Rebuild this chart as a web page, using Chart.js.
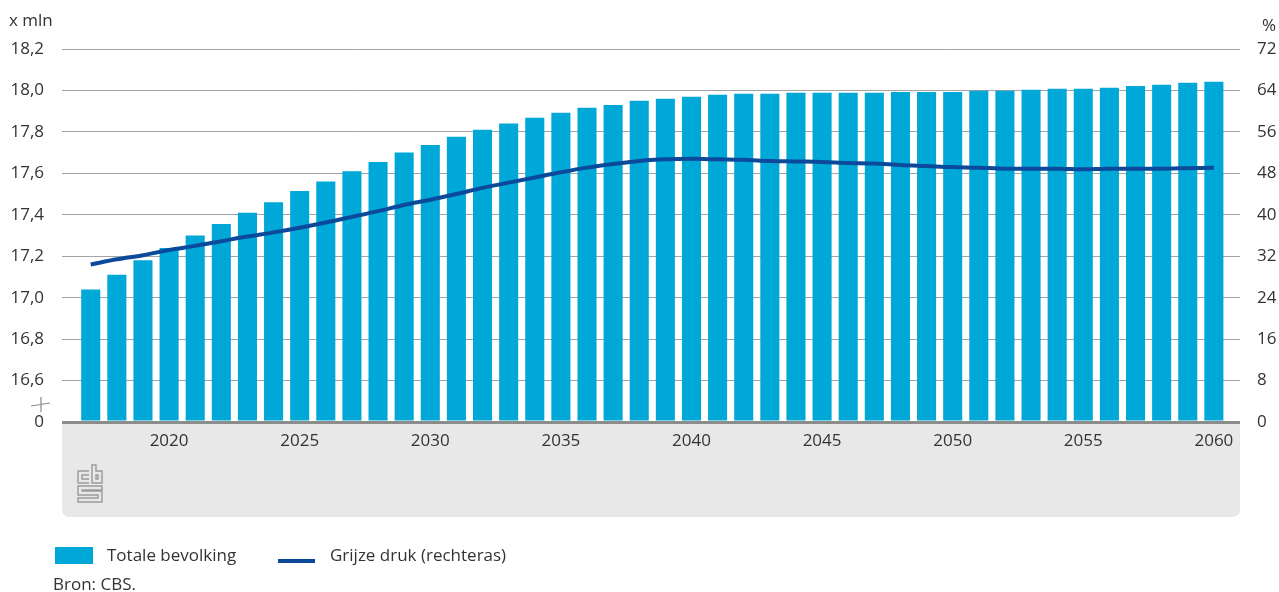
<!DOCTYPE html>
<html>
<head>
<meta charset="utf-8">
<script src="https://cdn.jsdelivr.net/npm/chart.js@4"></script>
<style>
  html, body { margin: 0; padding: 0; background: #fff; }
  #wrap { position: relative; width: 1279px; height: 592px; font-family: "Open Sans", sans-serif; color: #333; }
  #legend { position: absolute; left: 55px; top: 543px; font-size: 17px; }
  .item { position: absolute; top: 0; white-space: nowrap; }
  .swatch { position: absolute; }
  #bron { position: absolute; left: 53px; top: 572px; font-size: 17px; }
</style>
</head>
<body>
<div id="wrap">
  <canvas id="chart" width="1279" height="592"></canvas>
  <div id="legend">
    <div class="swatch" style="left:0;top:4px;width:38px;height:17px;background:#00a8d8"></div>
    <div class="item" style="left:52px">Totale bevolking</div>
    <div class="swatch" style="left:223px;top:16px;width:37px;height:4px;background:#0b4a9b"></div>
    <div class="item" style="left:275px">Grijze druk (rechteras)</div>
  </div>
  <div id="bron">Bron: CBS.</div>
</div>
<script>
// jaren 2017 - 2060
var years = [];
for (var y = 2017; y <= 2060; y++) years.push(y);

// totale bevolking (x mln)
var population = [
  17.04, 17.11, 17.18, 17.24, 17.30, 17.355, 17.41, 17.46, 17.515, 17.56,
  17.61, 17.655, 17.70, 17.737, 17.776, 17.81, 17.84, 17.868, 17.892, 17.916,
  17.93, 17.95, 17.96, 17.969, 17.979, 17.984, 17.984, 17.989, 17.989, 17.989,
  17.989, 17.993, 17.993, 17.993, 17.998, 17.998, 18.003, 18.008, 18.008, 18.013,
  18.022, 18.027, 18.037, 18.042
];

// grijze druk (%)
var greyPressure = [
  30.4, 31.4, 32.2, 33.2, 34.0, 34.9, 35.8, 36.6, 37.5, 38.5,
  39.6, 40.7, 41.9, 42.9, 44.0, 45.2, 46.2, 47.2, 48.2, 49.1,
  49.8, 50.4, 50.7, 50.8, 50.7, 50.6, 50.4, 50.3, 50.2, 50.0,
  49.9, 49.6, 49.4, 49.2, 49.1, 48.9, 48.9, 48.9, 48.8, 48.9,
  48.9, 48.9, 49.0, 49.1
];

var xTicks = [2020, 2025, 2030, 2035, 2040, 2045, 2050, 2055, 2060];

var textColor = '#333333';
var fontFamily = '"Open Sans", sans-serif';

var decorPlugin = {
    id: 'decor',
    beforeDraw: function (chart) {
        var ctx = chart.ctx;
        var a = chart.chartArea;
        var bottom = 517, r = 8;
        ctx.save();
        ctx.fillStyle = '#e8e8e8';
        ctx.beginPath();
        ctx.moveTo(a.left, a.bottom);
        ctx.lineTo(a.right, a.bottom);
        ctx.lineTo(a.right, bottom - r);
        ctx.quadraticCurveTo(a.right, bottom, a.right - r, bottom);
        ctx.lineTo(a.left + r, bottom);
        ctx.quadraticCurveTo(a.left, bottom, a.left, bottom - r);
        ctx.closePath();
        ctx.fill();
        ctx.restore();
    },
    afterDraw: function (chart) {
        var ctx = chart.ctx;
        ctx.save();
        // eenheden
        ctx.fillStyle = textColor;
        ctx.font = '17px ' + fontFamily;
        ctx.textAlign = 'left';
        ctx.textBaseline = 'alphabetic';
        ctx.fillText('x mln', 9, 26);
        ctx.fillText('%', 1262, 31);

        // asbreuk
        ctx.strokeStyle = '#8a8a8a';
        ctx.lineWidth = 1.2;
        ctx.beginPath();
        ctx.moveTo(41, 397);
        ctx.lineTo(41, 412);
        ctx.moveTo(31, 406);
        ctx.lineTo(50, 403);
        ctx.stroke();

        // cbs logo (vereenvoudigd)
        ctx.strokeStyle = '#9a9a9a';
        ctx.lineWidth = 1.4;
        ctx.beginPath();
        // c
        ctx.moveTo(89, 471); ctx.lineTo(78, 471); ctx.lineTo(78, 483); ctx.lineTo(89, 483);
        ctx.moveTo(89, 475); ctx.lineTo(82, 475); ctx.lineTo(82, 479); ctx.lineTo(89, 479);
        // b
        ctx.moveTo(92, 465); ctx.lineTo(92, 483); ctx.lineTo(102, 483); ctx.lineTo(102, 471); ctx.lineTo(96, 471); ctx.lineTo(96, 465); ctx.closePath();
        ctx.moveTo(96, 475); ctx.lineTo(98, 475); ctx.lineTo(98, 479); ctx.lineTo(96, 479); ctx.closePath();
        // s
        ctx.moveTo(102, 486); ctx.lineTo(78, 486); ctx.lineTo(78, 495); ctx.lineTo(98, 495); ctx.lineTo(98, 498); ctx.lineTo(78, 498); ctx.lineTo(78, 502); ctx.lineTo(102, 502); ctx.lineTo(102, 491); ctx.lineTo(82, 491); ctx.lineTo(82, 490); ctx.lineTo(102, 490); ctx.closePath();
        ctx.stroke();
        ctx.restore();
    }
};

var chartCanvas = document.getElementById('chart');
var populationChart = new Chart(chartCanvas, {
    type: 'bar',
    data: {
        datasets: [
            {
                type: 'line',
                label: 'Grijze druk (rechteras)',
                data: years.map(function (yr, i) { return { x: yr, y: greyPressure[i] }; }),
                yAxisID: 'yRight',
                borderColor: '#0b4a9b',
                borderWidth: 4,
                pointRadius: 0,
                tension: 0.4,
                cubicInterpolationMode: 'monotone',
                fill: false,
                order: 1
            },
            {
                type: 'bar',
                label: 'Totale bevolking',
                data: years.map(function (yr, i) { return { x: yr, y: population[i] }; }),
                yAxisID: 'y',
                backgroundColor: '#00a8d8',
                barPercentage: 0.73,
                categoryPercentage: 1,
                base: 16.4,
                order: 2
            }
        ]
    },
    options: {
        responsive: false,
        animation: false,
        layout: { padding: { top: 49, left: 0, right: 0, bottom: 0 } },
        plugins: {
            legend: { display: false },
            tooltip: { enabled: false }
        },
        scales: {
            x: {
                type: 'linear',
                offset: false,
                min: 2015.9,
                max: 2061,
                grid: { display: false, drawTicks: false, offset: false },
                border: { display: false },
                afterBuildTicks: function (scale) {
                    scale.ticks = xTicks.map(function (v) { return { value: v }; });
                },
                afterFit: function (scale) { scale.height = 170; },
                ticks: {
                    padding: 9,
                    maxRotation: 0,
                    autoSkip: false,
                    color: textColor,
                    font: { family: fontFamily, size: 17 },
                    callback: function (v) { return String(v); }
                }
            },
            y: {
                position: 'left',
                min: 16.4,
                max: 18.2,
                afterFit: function (scale) { scale.width = 62; },
                grid: {
                    drawTicks: false,
                    color: function (c) { return c.index === 0 ? '#8c8c8c' : '#a3a3a3'; },
                    lineWidth: function (c) { return c.index === 0 ? 3 : 1; }
                },
                border: { display: false },
                ticks: {
                    stepSize: 0.2,
                    padding: 18,
                    color: textColor,
                    font: { family: fontFamily, size: 17 },
                    callback: function (v, i) {
                        if (i === 0) return '0';
                        return v.toFixed(1).replace('.', ',');
                    }
                }
            },
            yRight: {
                position: 'right',
                min: 0,
                max: 72,
                afterFit: function (scale) { scale.width = 39; },
                grid: { display: false, drawTicks: false },
                border: { display: false },
                ticks: {
                    stepSize: 8,
                    padding: 17,
                    color: textColor,
                    font: { family: fontFamily, size: 17 }
                }
            }
        }
    },
    plugins: [decorPlugin]
});
</script>
</body>
</html>
